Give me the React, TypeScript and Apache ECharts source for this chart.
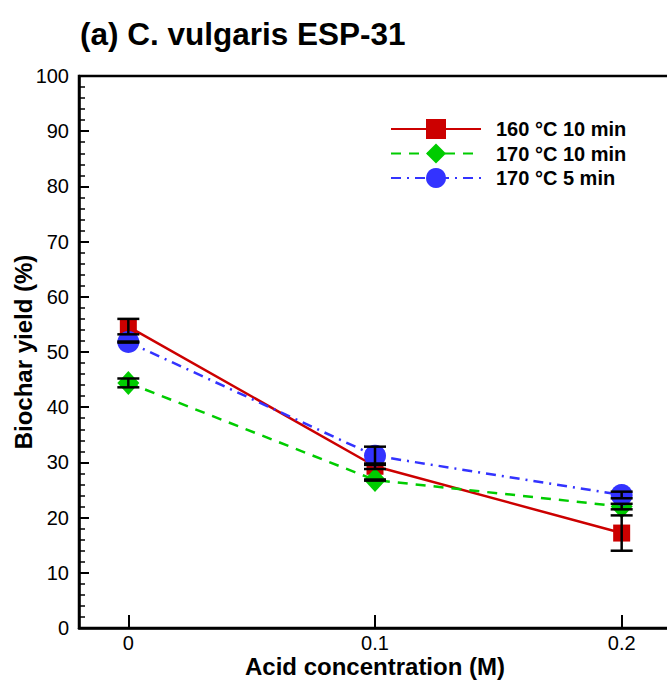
import React, { useEffect, useRef } from "react";
import * as echarts from "echarts";

const xValues = [0, 0.1, 0.2];
const xTickLabels = ["0", "0.1", "0.2"];
const seriesNames = ["160 °C 10 min", "170 °C 10 min", "170 °C 5 min"];
const red160_10 = [54.6, 29.3, 17.2];
const red160_10Err = [1.4, 0.5, 3.2];
const green170_10 = [44.4, 26.8, 22.0];
const green170_10Err = [0.8, 0.1, 0.5];
const blue170_5 = [51.8, 31.2, 24.1];
const blue170_5Err = [0.1, 1.65, 0.6];

const FONT = "'Liberation Sans', Arial, Helvetica, sans-serif";

export default function App() {
  const ref = useRef<HTMLDivElement>(null);
  useEffect(() => {
    if (!ref.current) return;
    const chart = echarts.init(ref.current, null, { renderer: "svg" });
    const pts = (vals: number[]) => xValues.map((x, i) => [x, vals[i]]);
    const errPts = (vals: number[], errs: number[]) =>
      xValues.map((x, i) => [x, vals[i], errs[i]]);
    const allErr = [
      ...errPts(red160_10, red160_10Err),
      ...errPts(green170_10, green170_10Err),
      ...errPts(blue170_5, blue170_5Err),
    ];
    const option: any = {
      animation: false,
      backgroundColor: "#fff",
      textStyle: { fontFamily: FONT },
      title: {
        text: "(a) C. vulgaris ESP-31",
        left: 75,
        top: 13,
        textStyle: { fontFamily: FONT, fontSize: 31.5, fontWeight: "bold", color: "#000" },
      },
      legend: {
        show: true,
        left: 385,
        top: 114,
        orient: "vertical",
        itemWidth: 90,
        itemHeight: 25,
        itemGap: 4.5,
        data: seriesNames,
        textStyle: {
          fontFamily: FONT,
          fontSize: 20,
          fontWeight: "bold",
          color: "#000",
          padding: [0, 0, 0, 10],
        },
      },
      grid: {
        left: 79,
        top: 76,
        width: 592,
        height: 552,
        show: true,
        borderColor: "#000",
        borderWidth: 2.5,
        backgroundColor: "transparent",
        containLabel: false,
        outerBoundsMode: "none",
      },
      xAxis: {
        type: "value",
        min: -0.02,
        max: 0.22,
        name: "Acid concentration (M)",
        nameLocation: "middle",
        nameGap: 26,
        nameMoveOverlap: false,
        nameTextStyle: { fontFamily: FONT, fontSize: 24, fontWeight: "bold", color: "#000" },
        axisLine: { show: true, onZero: false, lineStyle: { color: "#000", width: 2.5 } },
        axisTick: { show: true, inside: true, length: 13, customValues: xValues, lineStyle: { color: "#000", width: 2 } },
        axisLabel: {
          customValues: xValues,
          margin: 5,
          fontSize: 20,
          color: "#000",
          fontFamily: FONT,
          formatter: (v: number) => {
            const i = xValues.findIndex((x) => Math.abs(x - v) < 1e-9);
            return i >= 0 ? xTickLabels[i] : "";
          },
        },
        splitLine: { show: false },
      },
      yAxis: {
        type: "value",
        min: 0,
        max: 100,
        interval: 10,
        name: "Biochar yield (%)",
        nameLocation: "middle",
        nameGap: 44,
        nameMoveOverlap: false,
        nameTextStyle: { fontFamily: FONT, fontSize: 24, fontWeight: "bold", color: "#000" },
        axisLine: { show: true, onZero: false, lineStyle: { color: "#000", width: 2.5 } },
        axisTick: { show: true, inside: true, length: 10, lineStyle: { color: "#000", width: 2 } },
        minorTick: { show: true, splitNumber: 5, length: 6, lineStyle: { color: "#000", width: 1.5 } },
        axisLabel: { margin: 10, fontSize: 20, color: "#000", fontFamily: FONT },
        splitLine: { show: false },
      },
      series: [
        {
          name: seriesNames[0],
          type: "line",
          data: pts(red160_10),
          symbol: "rect",
          symbolSize: 17,
          itemStyle: { color: "#cc0000" },
          lineStyle: { color: "#cc0000", width: 2.5, type: "solid" },
          z: 2,
        },
        {
          name: seriesNames[1],
          type: "line",
          data: pts(green170_10),
          symbol: "diamond",
          symbolSize: [22, 24],
          itemStyle: { color: "#00cc00" },
          lineStyle: { color: "#00cc00", width: 2.5, type: [10, 8] },
          z: 3,
        },
        {
          name: seriesNames[2],
          type: "line",
          data: pts(blue170_5),
          symbol: "circle",
          symbolSize: 22,
          itemStyle: { color: "#3333ff" },
          lineStyle: { color: "#3333ff", width: 2.5, type: [10, 6, 2, 6] },
          z: 4,
        },
        {
          type: "custom",
          name: "err",
          z: 10,
          silent: true,
          data: allErr,
          renderItem: (params: any, api: any) => {
            const x = api.value(0);
            const y = api.value(1);
            const e = api.value(2);
            const top = api.coord([x, y + e]);
            const bot = api.coord([x, y - e]);
            const hw = 11;
            const style = { stroke: "#000", lineWidth: 2.5 };
            return {
              type: "group",
              children: [
                { type: "line", shape: { x1: top[0], y1: top[1], x2: bot[0], y2: bot[1] }, style },
                { type: "line", shape: { x1: top[0] - hw, y1: top[1], x2: top[0] + hw, y2: top[1] }, style },
                { type: "line", shape: { x1: bot[0] - hw, y1: bot[1], x2: bot[0] + hw, y2: bot[1] }, style },
              ],
            };
          },
        },
      ],
    };
    chart.setOption(option);
    return () => chart.dispose();
  }, []);
  return (
    <div
      ref={ref}
      style={{ position: "fixed", left: 0, top: 0, width: 667, height: 682, background: "#fff" }}
    />
  );
}
